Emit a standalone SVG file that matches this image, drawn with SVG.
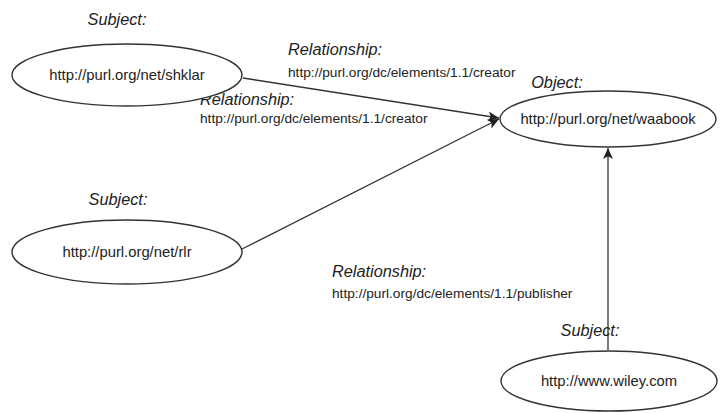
<svg xmlns="http://www.w3.org/2000/svg" width="720" height="413" viewBox="0 0 720 413">
  <defs>
    <marker id="arrow" viewBox="0 0 10 10" refX="10" refY="5" markerWidth="11" markerHeight="11" markerUnits="userSpaceOnUse" orient="auto">
      <path d="M0,0.5 L10,5 L0,9.5 L2.5,5 Z" fill="#222"/>
    </marker>
  </defs>
  <style>
    .node ellipse { fill: #fff; stroke: #333; stroke-width: 1.4; }
    .uri { font-family: "Liberation Sans", Arial, sans-serif; font-size: 13.7px; fill: #222; }
    .node .uri { font-size: 14.8px; }
    .lbl { font-family: "Liberation Sans", Arial, sans-serif; font-size: 16.3px; font-style: italic; fill: #222; }
    .edge { stroke: #333; stroke-width: 1.3; fill: none; marker-end: url(#arrow); }
  </style>
  <rect width="720" height="413" fill="#fff"/>

  <g id="connectors">
    <line class="edge" x1="243" y1="78" x2="499" y2="118"/>
    <line class="edge" x1="242" y1="249" x2="499" y2="119"/>
    <line class="edge" x1="608" y1="350" x2="608" y2="148"/>
  </g>

  <g id="edge-labels">
    <text class="lbl" x="288" y="55">Relationship:</text>
    <text class="uri" x="288" y="77">http://purl.org/dc/elements/1.1/creator</text>
    <text class="lbl" x="200" y="105">Relationship:</text>
    <text class="uri" x="200" y="123">http://purl.org/dc/elements/1.1/creator</text>
    <text class="lbl" x="332" y="277">Relationship:</text>
    <text class="uri" x="332" y="298">http://purl.org/dc/elements/1.1/publisher</text>
  </g>

  <g id="node-shklar" class="node">
    <text class="lbl" x="117" y="25" text-anchor="middle">Subject:</text>
    <ellipse cx="127" cy="75" rx="115" ry="31"/>
    <text class="uri" x="127" y="80" text-anchor="middle">http://purl.org/net/shklar</text>
  </g>

  <g id="node-rlr" class="node">
    <text class="lbl" x="118" y="205" text-anchor="middle">Subject:</text>
    <ellipse cx="127" cy="252" rx="115" ry="32"/>
    <text class="uri" x="127" y="257" text-anchor="middle">http://purl.org/net/rlr</text>
  </g>

  <g id="node-waabook" class="node">
    <text class="lbl" x="557" y="88" text-anchor="middle">Object:</text>
    <ellipse cx="608" cy="119" rx="108" ry="28"/>
    <text class="uri" x="608" y="124" text-anchor="middle">http://purl.org/net/waabook</text>
  </g>

  <g id="node-wiley" class="node">
    <text class="lbl" x="590" y="336" text-anchor="middle">Subject:</text>
    <ellipse cx="609" cy="381" rx="108" ry="30"/>
    <text class="uri" x="609" y="386" text-anchor="middle">http://www.wiley.com</text>
  </g>
</svg>
